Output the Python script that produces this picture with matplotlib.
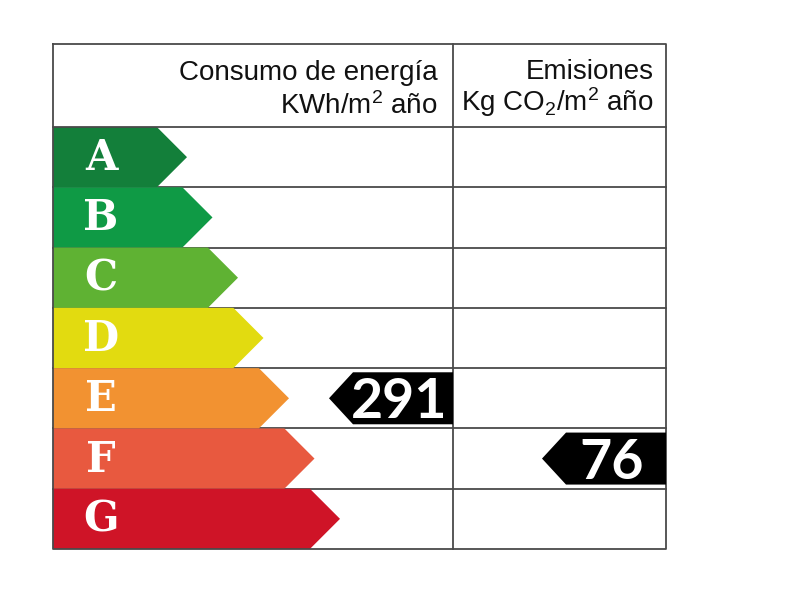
import matplotlib.pyplot as plt
from matplotlib.patches import Polygon

# energy classes and their colours
classes = ['A', 'B', 'C', 'D', 'E', 'F', 'G']
class_colors = ['#137f3a', '#0f9a45', '#5fb233', '#e2db10', '#f29231', '#e8593f', '#cf1427']

energy_title = ['Consumo de energía', r'KWh/m$\mathregular{^2}$ año']
emission_title = ['Emisiones', r'Kg CO$\mathregular{_2}$/m$\mathregular{^2}$ año']

energy_class, energy_value = 'E', 291
emission_class, emission_value = 'F', 76

# layout (pixel units, y downwards)
left, mid, right = 53, 453, 666
top, head = 44, 127
row_h = (549 - head) / len(classes)
tip0, tip_step = 187, 25.5
line_col = '#4a4a4a'

fig = plt.figure(figsize=(8, 6), dpi=100)
ax = fig.add_axes([0, 0, 1, 1])
ax.set_xlim(0, 800)
ax.set_ylim(600, 0)
ax.axis('off')

# arrows
for i, (c, col) in enumerate(zip(classes, class_colors)):
    y0 = head + i * row_h
    tip = tip0 + i * tip_step
    body = tip - row_h / 2
    ax.add_patch(Polygon([(left, y0), (body, y0), (tip, y0 + row_h / 2),
                          (body, y0 + row_h), (left, y0 + row_h)],
                         closed=True, fc=col, ec='none', zorder=1))
    ax.text(101, y0 + row_h / 2 + 1, c, color='white', fontsize=30,
            fontfamily='DejaVu Serif', fontweight='bold',
            ha='center', va='center', zorder=3)

# grid
bottom = head + len(classes) * row_h
ax.plot([left, right, right, left, left], [top, top, bottom, bottom, top],
        color=line_col, lw=1.3, zorder=4)
ax.plot([mid, mid], [top, bottom], color=line_col, lw=1.3, zorder=4)
for i in range(1, len(classes)):
    y = head + i * row_h
    ax.plot([left, right], [y, y], color=line_col, lw=1.3, zorder=0)
ax.plot([left, right], [head, head], color=line_col, lw=1.3, zorder=4)

# headers
hfont = dict(fontfamily='Liberation Sans', fontsize=20, color='#111111',
             ha='right', va='baseline')
ax.text(438, 80, energy_title[0], **hfont)
ax.text(438, 114, energy_title[1], **hfont)
ax.text(654, 79, emission_title[0], **hfont)
ax.text(654, 111, emission_title[1], **hfont)


# value badges
def badge(cls, value, x_right):
    i = classes.index(cls)
    yc = head + i * row_h + row_h / 2
    bh, depth = 52, 24
    x_left = x_right - 124
    pts = [(x_right, yc - bh / 2), (x_left + depth, yc - bh / 2), (x_left, yc),
           (x_left + depth, yc + bh / 2), (x_right, yc + bh / 2)]
    ax.add_patch(Polygon(pts, closed=True, fc='black', ec='none', zorder=5))
    ax.text((x_left + depth + x_right) / 2 - 4, yc + 20, str(value), color='white',
            fontsize=40, fontfamily='Lato', fontweight='bold',
            ha='center', va='baseline', zorder=6)


badge(energy_class, energy_value, mid)
badge(emission_class, emission_value, right)

fig.savefig('out.png', dpi=100, facecolor='white')
